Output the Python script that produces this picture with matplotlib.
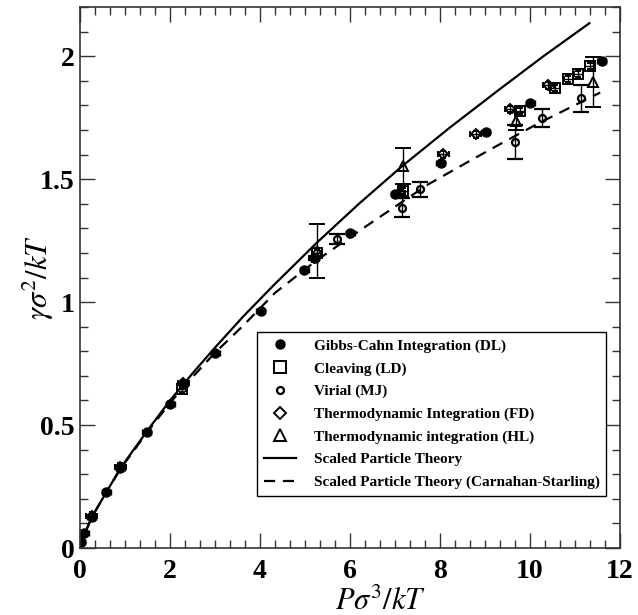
import numpy as np
import matplotlib
matplotlib.use('Agg')
import matplotlib.pyplot as plt
from matplotlib.lines import Line2D
from matplotlib.ticker import MultipleLocator, FuncFormatter

# Gibbs-Cahn integration (DL)
gc_x = [0.02, 0.1, 0.26, 0.58, 0.9, 1.48, 2.0, 2.3, 3.0, 4.02, 4.98, 5.22, 6.0, 7.0, 8.02, 9.02, 10.0, 11.59]
gc_y = [0.024, 0.06, 0.126, 0.228, 0.327, 0.473, 0.587, 0.668, 0.794, 0.965, 1.13, 1.18, 1.282, 1.438, 1.567, 1.693, 1.809, 1.979]

# cleaving (LD)
cl_x = [2.26, 5.26, 7.18, 9.78, 10.56, 10.85, 11.07, 11.33]
cl_y = [0.645, 1.2, 1.452, 1.777, 1.872, 1.909, 1.927, 1.961]

# virial (MJ)
mj_x = [5.7, 7.15, 7.56, 9.67, 10.26, 11.13]
mj_y = [1.257, 1.384, 1.458, 1.652, 1.747, 1.828]
mj_err = [0.02, 0.04, 0.03, 0.07, 0.037, 0.055]

# thermodynamic integration (FD)
fd_x = [0.26, 0.9, 2.3, 5.2, 7.1, 8.07, 8.79, 9.56, 10.41]
fd_y = [0.13, 0.33, 0.67, 1.18, 1.445, 1.601, 1.682, 1.784, 1.882]

# thermodynamic integration (HL)
hl_x = [5.26, 7.18, 9.7, 11.39]
hl_y = [1.207, 1.553, 1.736, 1.895]
hl_err = [0.11, 0.072, 0.035, 0.1]

# scaled particle theory curves
spt_x = [0, 0.05, 0.1, 0.26, 0.5, 0.9, 1.5, 2.0, 2.5, 3.0, 3.63, 4.3, 5.26, 6.2, 7.16, 8.2, 9.3, 10.3, 11.32]
spt_y = [0, 0.03, 0.055, 0.125, 0.2, 0.325, 0.478, 0.6, 0.71, 0.815, 0.942, 1.068, 1.241, 1.4, 1.553, 1.707, 1.862, 2.0, 2.134]
cs_x = [0, 0.05, 0.1, 0.26, 0.5, 0.9, 1.5, 2.0, 2.5, 3.0, 3.63, 4.33, 5.26, 6.37, 7.73, 8.67, 9.26, 10.22, 11.56]
cs_y = [0, 0.03, 0.055, 0.125, 0.2, 0.322, 0.472, 0.59, 0.695, 0.794, 0.905, 1.037, 1.17, 1.31, 1.478, 1.575, 1.635, 1.73, 1.852]

labels = ['Gibbs-Cahn Integration (DL)', 'Cleaving (LD)', 'Virial (MJ)',
          'Thermodynamic Integration (FD)', 'Thermodynamic integration (HL)',
          'Scaled Particle Theory', 'Scaled Particle Theory (Carnahan-Starling)']

plt.rcParams['mathtext.fontset'] = 'stix'
serif = 'Liberation Serif'

fig = plt.figure(figsize=(6.38, 6.15), dpi=100)
ax = fig.add_axes([80 / 638, 1 - 548 / 615, 540 / 638, 541 / 615])

# theory lines
ax.plot(spt_x, spt_y, color='black', lw=1.6)
ax.plot(cs_x, cs_y, color='black', lw=1.6, dashes=(5, 3.5))

# simulation data
eb = dict(color='black', ecolor='black', elinewidth=1, capthick=1, linestyle='none')
ax.errorbar(gc_x, gc_y, yerr=0.012, xerr=0.1, fmt='o', ms=6.5, mfc='black', mec='black',
            capsize=2, **eb)
ax.errorbar(cl_x, cl_y, yerr=0.012, xerr=0.1, fmt='s', ms=7.5, mfc='none', mec='black', mew=1.4,
            capsize=2, **eb)
ax.errorbar(fd_x, fd_y, yerr=0.015, xerr=0.12, fmt='D', ms=5.5, mfc='none', mec='black', mew=1.4,
            capsize=2, **eb)
ax.errorbar(mj_x, mj_y, yerr=mj_err, fmt='o', ms=5, mfc='none', mec='black', mew=1.6,
            capsize=6, **eb)
ax.errorbar(hl_x, hl_y, yerr=hl_err, fmt='^', ms=7.5, mfc='none', mec='black', mew=1.4,
            capsize=6, **eb)

ax.set_xlim(0, 12)
ax.set_ylim(0, 2.2)
ax.xaxis.set_major_locator(MultipleLocator(2))
ax.xaxis.set_minor_locator(MultipleLocator(1 / 3))
ax.yaxis.set_major_locator(MultipleLocator(0.5))
ax.yaxis.set_minor_locator(MultipleLocator(0.1))
fmt = FuncFormatter(lambda v, p: '%g' % v)
ax.xaxis.set_major_formatter(fmt)
ax.yaxis.set_major_formatter(fmt)
ax.tick_params(which='both', direction='in', top=True, right=True, width=1, color='#333333')
ax.tick_params(which='major', length=11)
ax.tick_params(which='minor', length=6)
ax.tick_params(axis='x', pad=8)
ax.tick_params(axis='y', pad=4)
for lab in ax.get_xticklabels() + ax.get_yticklabels():
    lab.set_fontfamily(serif)
    lab.set_fontweight('bold')
    lab.set_fontsize(20)
for sp in ax.spines.values():
    sp.set_linewidth(1.2)
    sp.set_color('#333333')

ax.set_xlabel(r'$P\sigma^3/kT$', fontsize=22)
ax.set_ylabel(r'$\gamma\sigma^2/kT$', fontsize=22)
ax.xaxis.set_label_coords(0.557, -0.072)
ax.yaxis.set_label_coords(-0.045, 0.5)

handles = [
    Line2D([], [], marker='o', ls='none', color='black', ms=6.5),
    Line2D([], [], marker='s', ls='none', mfc='none', mec='black', ms=8, mew=1.4),
    Line2D([], [], marker='o', ls='none', mfc='none', mec='black', ms=5, mew=1.6),
    Line2D([], [], marker='D', ls='none', mfc='none', mec='black', ms=6, mew=1.4),
    Line2D([], [], marker='^', ls='none', mfc='none', mec='black', ms=8, mew=1.4),
    Line2D([], [], color='black', lw=1.6),
    Line2D([], [], color='black', lw=1.6, dashes=(5, 3.5)),
]
leg = ax.legend(handles, labels, loc='upper left', bbox_to_anchor=(0.328, 0.399),
                borderaxespad=0, fancybox=False, edgecolor='black', framealpha=1,
                prop={'family': serif, 'weight': 'bold', 'size': 11},
                labelspacing=0.58, handlelength=2.1, handletextpad=1.15, borderpad=0.45)
leg.get_frame().set_linewidth(1.0)

fig.savefig('out.png', dpi=100)
